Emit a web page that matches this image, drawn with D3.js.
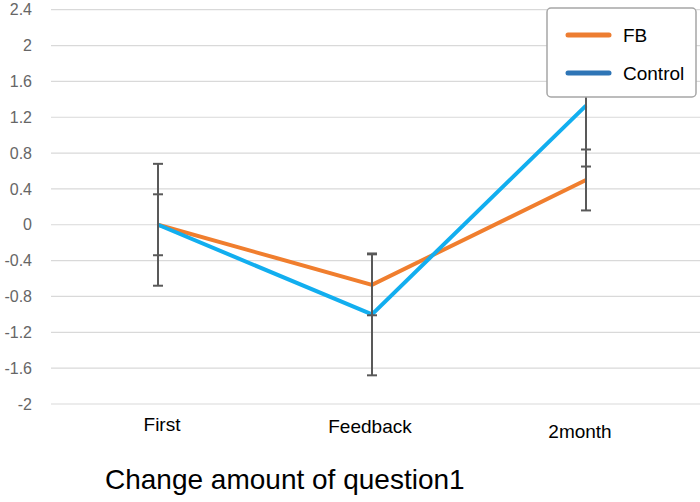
<!DOCTYPE html>
<html>
<head>
<meta charset="utf-8">
<script src="https://cdn.jsdelivr.net/npm/d3@7"></script>
<style>
  body { margin: 0; background: #fff; }
  svg { display: block; font-family: "Liberation Sans", Arial, sans-serif; }
</style>
</head>
<body>
<svg id="chart" width="700" height="502"></svg>
<script>
// data
const categories = ['First', 'Feedback', '2month']
const fbValues = [0, -0.67, 0.5]
const fbErrors = [0.34, 0.34, 0.34]
const controlValues = [0, -1.0, 1.33]
const controlErrors = [0.68, 0.68, 0.68]
const yTicks = [2.4, 2, 1.6, 1.2, 0.8, 0.4, 0, -0.4, -0.8, -1.2, -1.6, -2]
// small label nudges to match the original layout
const labelDx = [4, -2, -6]
const labelDy = [0, 2, 7]

const svg = d3.select('#chart')

const x = d3.scalePoint()
  .domain(categories)
  .range([158, 586])

const y = d3.scaleLinear()
  .domain([-2, 2.4])
  .range([404, 9.7])

// gridlines
svg.append('g')
  .selectAll('line')
  .data(yTicks)
  .join('line')
  .attr('x1', 51)
  .attr('x2', 700)
  .attr('y1', d => y(d))
  .attr('y2', d => y(d))
  .attr('stroke', '#d9d9d9')
  .attr('stroke-width', 1.2)

// y tick labels
svg.append('g')
  .selectAll('text')
  .data(yTicks)
  .join('text')
  .attr('x', 32)
  .attr('y', d => y(d))
  .attr('dy', '0.35em')
  .attr('text-anchor', 'end')
  .attr('fill', '#666')
  .style('font-size', '16px')
  .text(d => d)

// category labels
svg.append('g')
  .selectAll('text')
  .data(categories)
  .join('text')
  .attr('x', (d, i) => x(d) + labelDx[i])
  .attr('y', (d, i) => 431 + labelDy[i])
  .attr('text-anchor', 'middle')
  .attr('fill', '#000')
  .style('font-size', '19px')
  .text(d => d)

const line = d3.line()
  .x((d, i) => x(categories[i]))
  .y(d => y(d))

svg.append('path')
  .datum(fbValues)
  .attr('d', line)
  .attr('fill', 'none')
  .attr('stroke', '#F07E2E')
  .attr('stroke-width', 4)
  .attr('stroke-linejoin', 'miter')

svg.append('path')
  .datum(controlValues)
  .attr('d', line)
  .attr('fill', 'none')
  .attr('stroke', '#12AEEF')
  .attr('stroke-width', 4)
  .attr('stroke-linejoin', 'miter')

// error bars on top of lines
function errorBars(values, errors) {
  const g = svg.append('g')
  values.forEach((v, i) => {
    const cx = x(categories[i])
    const lo = y(v - errors[i])
    const hi = y(v + errors[i])
    g.append('line')
      .attr('x1', cx).attr('x2', cx)
      .attr('y1', hi).attr('y2', lo)
      .attr('stroke', '#595959').attr('stroke-width', 2)
    ;[lo, hi].forEach(cy => {
      g.append('line')
        .attr('x1', cx - 5).attr('x2', cx + 5)
        .attr('y1', cy).attr('y2', cy)
        .attr('stroke', '#595959').attr('stroke-width', 2)
    })
  })
}
errorBars(fbValues, fbErrors)
errorBars(controlValues, controlErrors)

// legend
const legend = svg.append('g')
legend.append('rect')
  .attr('x', 547).attr('y', 8)
  .attr('width', 149).attr('height', 89)
  .attr('rx', 4)
  .attr('fill', '#fff')
  .attr('stroke', '#a6a6a6')
  .attr('stroke-width', 1.5)

const legendItems = [
  { name: 'FB', color: '#ED7D31' },
  { name: 'Control', color: '#2E75B6' }
]
legendItems.forEach((d, i) => {
  const ly = 35 + i * 38
  legend.append('line')
    .attr('x1', 568).attr('x2', 609)
    .attr('y1', ly).attr('y2', ly)
    .attr('stroke', d.color)
    .attr('stroke-width', 5)
    .attr('stroke-linecap', 'round')
  legend.append('text')
    .attr('x', 623).attr('y', ly)
    .attr('dy', '0.35em')
    .attr('fill', '#000')
    .style('font-size', '19px')
    .text(d.name)
})

// title
svg.append('text')
  .attr('x', 105)
  .attr('y', 489)
  .attr('fill', '#000')
  .style('font-size', '28px')
  .text('Change amount of question1')
</script>
</body>
</html>
